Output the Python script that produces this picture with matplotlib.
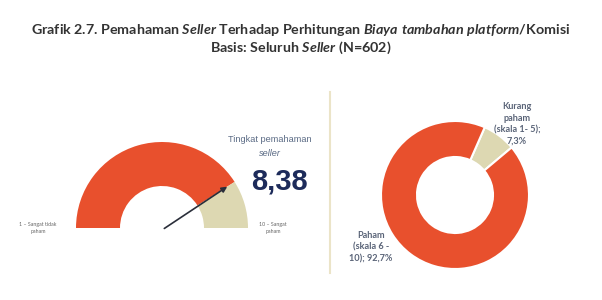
import numpy as np
import matplotlib
matplotlib.use("Agg")
import matplotlib.pyplot as plt

plt.rcParams["mathtext.fontset"] = "custom"
plt.rcParams["mathtext.rm"] = "Lato:bold"
plt.rcParams["mathtext.it"] = "Lato:italic:bold"
plt.rcParams["mathtext.bf"] = "Lato:bold"

# data
gauge_min = 1
gauge_max = 10
gauge_value = 8.38
gauge_left_label = "1 – Sangat tidak\npaham"
gauge_right_label = "10 – Sangat\npaham"

donut_labels = ["Kurang\npaham\n(skala 1- 5);\n7,3%", "Paham\n(skala 6 -\n10); 92,7%"]
donut_values = [7.3, 92.7]

title_line1 = (r"Grafik 2.7. Pemahaman $\mathit{Seller}$ Terhadap Perhitungan "
               r"$\mathit{Biaya\ tambahan\ platform}$/Komisi")
title_line2 = r"Basis: Seluruh $\mathit{Seller}$ (N=602)"

ORANGE = "#e8502d"
BEIGE = "#ddd8b2"
NAVY = "#1d2b5a"
LABEL = "#5a6478"

W, H = 602, 300
fig = plt.figure(figsize=(W / 100, H / 100), dpi=100)
ax = fig.add_axes([0, 0, 1, 1])

# gauge (half donut, lower half hidden)
gc = (162, 72)
ax.pie([gauge_value - gauge_min, gauge_max - gauge_value, gauge_max - gauge_min],
       colors=[ORANGE, BEIGE, "none"], startangle=180, counterclock=False,
       radius=86, center=gc, wedgeprops=dict(width=44, edgecolor="none"))

ang = np.radians(180 - (gauge_value - gauge_min) / (gauge_max - gauge_min) * 180)
L = 80
ax.annotate("", xy=(gc[0] + L * np.cos(ang), gc[1] + L * np.sin(ang)), xytext=(gc[0], gc[1] - 2),
            arrowprops=dict(arrowstyle="-|>", color="#2a2e3a", lw=1.2, mutation_scale=8))

ax.text(38, 72, gauge_left_label, ha="center", va="center", fontsize=3.8,
        color="#666666", family="Lato", linespacing=1.3)
ax.text(273, 72, gauge_right_label, ha="center", va="center", fontsize=3.8,
        color="#666666", family="Lato", linespacing=1.3)

ax.text(270, 300 - 140, "Tingkat pemahaman", ha="center", va="center", fontsize=6.6,
        color="#5b6b85", family="Liberation Sans")
ax.text(270, 300 - 154, "seller", ha="center", va="center", fontsize=6.6,
        color="#5b6b85", family="Liberation Sans", style="italic")
ax.text(279, 300 - 182, f"{gauge_value:.2f}".replace(".", ","), ha="center", va="center",
        fontsize=21, color=NAVY, family="Liberation Sans", fontweight="bold")

# divider
ax.plot([330, 330], [300 - 92, 300 - 273], color="#ebe4c8", lw=1.5)

# donut
ax.pie(donut_values, colors=[BEIGE, ORANGE], startangle=40, counterclock=True,
       radius=74, center=(455, 105),
       wedgeprops=dict(width=36, edgecolor="white", linewidth=1.5))

ax.text(517, 300 - 124, donut_labels[0], ha="center", va="center", fontsize=6.6,
        color=LABEL, family="Lato", fontweight="bold", linespacing=1.35)
ax.text(371, 300 - 247, donut_labels[1], ha="center", va="center", fontsize=6.6,
        color=LABEL, family="Lato", fontweight="bold", linespacing=1.35)

ax.set_xlim(0, W)
ax.set_ylim(0, H)
ax.set_aspect("equal")
ax.axis("off")

# title
fig.text(0.5, 1 - 34 / H, title_line1, ha="center", va="baseline", fontsize=10.3,
         fontweight="bold", family="Lato", color="#333333")
fig.text(0.5, 1 - 52 / H, title_line2, ha="center", va="baseline", fontsize=10.3,
         fontweight="bold", family="Lato", color="#333333")

fig.savefig("out.png", dpi=100)
